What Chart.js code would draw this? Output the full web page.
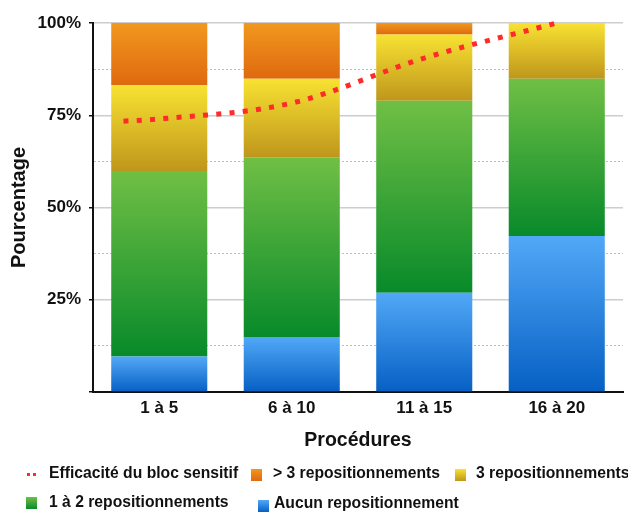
<!DOCTYPE html>
<html>
<head>
<meta charset="utf-8">
<script src="https://cdn.jsdelivr.net/npm/chart.js@4.4.1/dist/chart.umd.min.js"></script>
<style>
  body { margin: 0; background: #fff; }
  #wrap { position: relative; width: 628px; height: 513px; }
  .item { position: absolute; height: 20px; line-height: 20px; font: bold 15.7px 'Liberation Sans', Arial, sans-serif; color: #111; white-space: nowrap; }
  .swatch { position: absolute; width: 11px; height: 12px; }
  .dots { position: absolute; width: 12px; height: 3px; }
</style>
</head>
<body>
<div id="wrap">
  <canvas id="chart" width="628" height="513"></canvas>
  <div id="legend"></div>
</div>
<script>
const categories = ['1 à 5', '6 à 10', '11 à 15', '16 à 20'];

// pourcentages par tranche de procédures
const aucun = [9.6, 14.9, 26.9, 42.3];
const unADeux = [50.3, 48.7, 52.0, 42.6];
const trois = [23.2, 21.3, 18.0, 15.1];
const plusDeTrois = [16.9, 15.1, 3.1, 0];

// courbe d'efficacité (position en unités de catégorie)
const efficaciteX = [-0.27, 0, 1, 2, 3];
const efficaciteY = [73.4, 74.0, 78.3, 90.5, 100];

const yTickLabels = ['25%', '50%', '75%', '100%'];

Chart.defaults.font.family = "'Liberation Sans', Arial, sans-serif";
Chart.defaults.color = '#111';

const segGradient = (top, bottom) => (ctx) => {
    const chart = ctx.chart;
    const y = chart.scales.y;
    if (!y || ctx.type !== 'data') return bottom;
    const i = ctx.dataIndex;
    let base = 0;
    for (let k = 0; k < ctx.datasetIndex; k++) base += chart.data.datasets[k].data[i];
    const v = chart.data.datasets[ctx.datasetIndex].data[i];
    const y0 = y.getPixelForValue(base + v);
    const y1 = y.getPixelForValue(base);
    if (!isFinite(y0) || y1 - y0 < 1) return top;
    const g = chart.ctx.createLinearGradient(0, y0, 0, y1);
    g.addColorStop(0, top);
    g.addColorStop(1, bottom);
    return g;
};

const series = [
    { label: 'Aucun repositionnement', data: aucun, top: '#52a8f7', bottom: '#0660c4' },
    { label: '1 à 2 repositionnements', data: unADeux, top: '#70bf45', bottom: '#088a2a' },
    { label: '3 repositionnements', data: trois, top: '#f8e232', bottom: '#bf961c' },
    { label: '> 3 repositionnements', data: plusDeTrois, top: '#f1981f', bottom: '#df690f' }
];

const datasets = series.map(s => ({
    type: 'bar',
    label: s.label,
    data: s.data,
    backgroundColor: segGradient(s.top, s.bottom),
    borderWidth: 0,
    barPercentage: 0.725,
    categoryPercentage: 1,
    grouped: false,
    order: 1
}));

datasets.push({
    type: 'line',
    label: 'Efficacité du bloc sensitif',
    data: efficaciteX.map((x, i) => ({ x: x, y: efficaciteY[i] })),
    xAxisID: 'xl',
    borderColor: '#ff2a2a',
    borderWidth: 5,
    borderDash: [5, 8.3],
    borderCapStyle: 'butt',
    pointRadius: 0,
    fill: false,
    cubicInterpolationMode: 'monotone',
    clip: false,
    order: 0
});

const isMajor = (v) => Math.abs(v % 25) < 0.01;

new Chart(document.getElementById('chart'), {
    data: { labels: categories, datasets: datasets },
    options: {
        responsive: false,
        animation: false,
        layout: { padding: { top: 23, right: 5, bottom: 60, left: 0 } },
        plugins: { legend: { display: false }, tooltip: { enabled: false } },
        scales: {
            x: {
                stacked: true,
                grid: { display: false, drawTicks: false },
                border: { color: '#111', width: 2 },
                ticks: { font: { size: 17, weight: 'bold' }, padding: 6, color: '#111' },
                title: { display: true, text: 'Procédures', font: { size: 19.5, weight: 'bold' }, color: '#111', padding: { top: 0, bottom: 1 } },
                afterFit: (s) => { s.height = 61; }
            },
            xl: {
                type: 'linear',
                display: false,
                min: -0.5,
                max: 3.5
            },
            y: {
                stacked: true,
                min: 0,
                max: 100,
                ticks: {
                    stepSize: 12.5,
                    padding: 8,
                    font: { size: 17, weight: 'bold' },
                    color: '#111',
                    callback: (v) => (isMajor(v) && v > 0) ? yTickLabels[v / 25 - 1] : ''
                },
                grid: {
                    color: (c) => c.tick && c.tick.value === 0 ? 'rgba(0,0,0,0)' : (isMajor(c.tick ? c.tick.value : 0) ? '#cdcdcd' : '#bdbdbd'),
                    lineWidth: (c) => c.tick && isMajor(c.tick.value) ? 1.5 : 1,
                    tickLength: 4,
                    tickWidth: 1.5,
                    tickColor: (c) => c.tick && isMajor(c.tick.value) ? '#111' : 'rgba(0,0,0,0)'
                },
                border: {
                    color: '#111',
                    width: 2,
                    dash: (c) => c.tick && !isMajor(c.tick.value) ? [2, 2] : []
                },
                title: { display: true, text: 'Pourcentage', font: { size: 20, weight: 'bold' }, color: '#111', padding: { top: 7.5, bottom: 0 } },
                afterFit: (s) => { s.width = 93; }
            }
        }
    }
});

// légende en HTML, deux lignes comme sur l'original
const legendItems = [
    { label: 'Efficacité du bloc sensitif', kind: 'line', mx: 27, my: 474, tx: 49, cy: 474 },
    { label: series[3].label, s: series[3], mx: 251, my: 475, tx: 273, cy: 474 },
    { label: series[2].label, s: series[2], mx: 455, my: 475, tx: 476, cy: 474 },
    { label: series[1].label, s: series[1], mx: 26, my: 503, tx: 49, cy: 503 },
    { label: series[0].label, s: series[0], mx: 258, my: 506, tx: 274, cy: 504 }
];
const legend = document.getElementById('legend');
legendItems.forEach(it => {
    const m = document.createElement('div');
    if (it.kind === 'line') {
        m.className = 'dots';
        m.style.left = it.mx + 'px';
        m.style.top = (it.my - 1) + 'px';
        m.style.background = 'repeating-linear-gradient(90deg, #ff2a2a 0 3px, transparent 3px 6px)';
    } else {
        m.className = 'swatch';
        m.style.left = it.mx + 'px';
        m.style.top = (it.my - 6) + 'px';
        m.style.background = 'linear-gradient(' + it.s.top + ', ' + it.s.bottom + ')';
    }
    legend.appendChild(m);
    const t = document.createElement('div');
    t.className = 'item';
    t.style.left = it.tx + 'px';
    t.style.top = (it.cy - 10) + 'px';
    t.textContent = it.label;
    legend.appendChild(t);
});
</script>
</body>
</html>
